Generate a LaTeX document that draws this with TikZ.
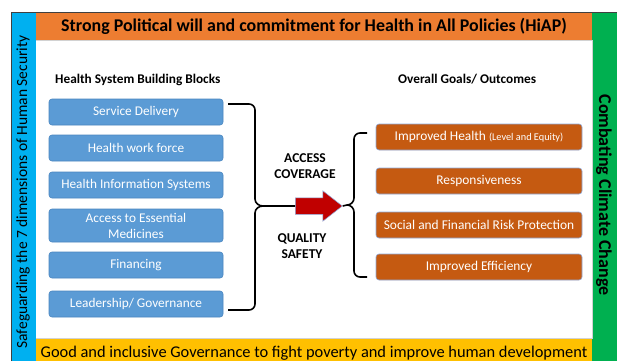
\documentclass[tikz,border=0pt]{standalone}
\usepackage{fontspec}
\setmainfont{Carlito}
\usetikzlibrary{shapes.arrows}
\definecolor{barblue}{HTML}{00B0F0}
\definecolor{barorange}{HTML}{ED7D31}
\definecolor{bargreen}{HTML}{00B050}
\definecolor{baryellow}{HTML}{FFC000}
\definecolor{boxblue}{HTML}{5B9BD5}
\definecolor{boxblueline}{HTML}{4A86C0}
\definecolor{boxorange}{HTML}{C55A11}
\definecolor{boxorangeline}{HTML}{8FAADC}
\definecolor{arrowred}{HTML}{C00000}
\definecolor{framegray}{HTML}{404040}
\tikzset{
  blockbox/.style={draw=boxblueline, fill=boxblue, line width=0.6pt, rounded corners=3pt,
    minimum width=174pt, minimum height=26pt, text=white, align=center,
    font=\fontsize{13.3}{15}\selectfont, inner sep=1pt},
  goalbox/.style={draw=boxorangeline, fill=boxorange, line width=0.6pt, rounded corners=3pt,
    minimum width=206pt, minimum height=26pt, text=white, align=center,
    font=\fontsize{13.4}{15}\selectfont, inner sep=1pt},
  bracepath/.style={draw=black, line width=1.6pt},
  heading/.style={font=\bfseries\fontsize{13.3}{15}\selectfont, anchor=base west, inner sep=0pt},
  midlabel/.style={font=\bfseries\fontsize{13.5}{15.5}\selectfont, align=center, inner sep=0pt},
  bartext/.style={inner sep=0pt}
}
\begin{document}
\begin{tikzpicture}[x=1pt,y=-1pt]
\useasboundingbox (0,0) rectangle (617,361);
% bars
\fill[white] (36,40) rectangle (592,338);
\fill[barblue] (11,12) rectangle (36,361);
\fill[barorange] (36,12) rectangle (592,40);
\fill[bargreen] (592,12) rectangle (617,361);
\fill[baryellow] (36,338) rectangle (592,361);
\draw[gray!35, line width=0.5pt] (36,40) -- (592,40) -- (592,338) -- (36,338);
\draw[framegray, line width=0.8pt] (11,361) -- (11,12) -- (617,12);
% bar texts
\node[bartext, anchor=base, font=\bfseries\fontsize{17.9}{20}\selectfont] (title) at (314,32)
  {Strong Political will and commitment for Health in All Policies (HiAP)};
\node[bartext, anchor=base, font=\fontsize{16.4}{19}\selectfont] (bottom) at (314,357)
  {Good and inclusive Governance to fight poverty and improve human development};
\node[bartext, rotate=90, font=\fontsize{15.5}{18}\selectfont] (left) at (23,192)
  {Safeguarding the 7 dimensions of Human Security};
\node[bartext, rotate=-90, font=\bfseries\fontsize{18}{20}\selectfont] (right) at (604,195)
  {Combating Climate Change};
% headings
\node[heading] (hl) at (55,83) {Health System Building Blocks};
\node[heading] (hr) at (398,83) {Overall Goals/ Outcomes};
% blocks
\node[blockbox] (sd) at (136,112) {Service Delivery};
\node[blockbox] (hwf) at (136,148) {Health work force};
\node[blockbox] (his) at (136,185) {Health Information Systems};
\node[blockbox, minimum height=33pt, font=\fontsize{13.3}{16}\selectfont] (aem) at (136,225.5) {Access to Essential\\Medicines};
\node[blockbox] (fin) at (136,265) {Financing};
\node[blockbox] (lg) at (136,304) {Leadership/ Governance};
% goals
\node[goalbox] (ih) at (479,137) {Improved Health {\fontsize{10.3}{12}\selectfont (Level and Equity)}};
\node[goalbox] (resp) at (479,181) {Responsiveness};
\node[goalbox] (sfrp) at (479,225) {Social and Financial Risk Protection};
\node[goalbox] (ie) at (479,267) {Improved Efficiency};
% arrow
\node[single arrow, fill=arrowred, draw=boxorangeline, line width=0.5pt,
  minimum height=47pt, inner xsep=0pt, inner ysep=8pt, single arrow head extend=7pt,
  single arrow tip angle=76] (arr) at (313.5,206) {};
% left brace
\coordinate (lbt) at (228,104);
\coordinate (lbb) at (228,310);
\coordinate (lbm) at (263,206);
\draw[bracepath] (lbt) -- (249,104) to[out=0,in=90] (255,110) -- (255,199)
  to[out=-90,in=180] (lbm) -- (arr.tail);
\draw[bracepath] (lbb) -- (249,310) to[out=0,in=-90] (255,304) -- (255,213)
  to[out=90,in=180] (lbm);
% right brace
\coordinate (rbt) at (367,133);
\coordinate (rbb) at (367,277);
\coordinate (rbm) at (347,205);
\draw[bracepath] (rbt) -- (360,133) to[out=180,in=90] (354,139) -- (354,198)
  to[out=-90,in=0] (rbm) -- (arr.tip);
\draw[bracepath] (rbb) -- (360,277) to[out=180,in=-90] (354,271) -- (354,212)
  to[out=90,in=0] (rbm);
% middle labels
\node[midlabel] (ac) at (305,166) {ACCESS\\COVERAGE};
\node[midlabel] (qs) at (302,246) {QUALITY\\SAFETY};
\end{tikzpicture}
\end{document}
